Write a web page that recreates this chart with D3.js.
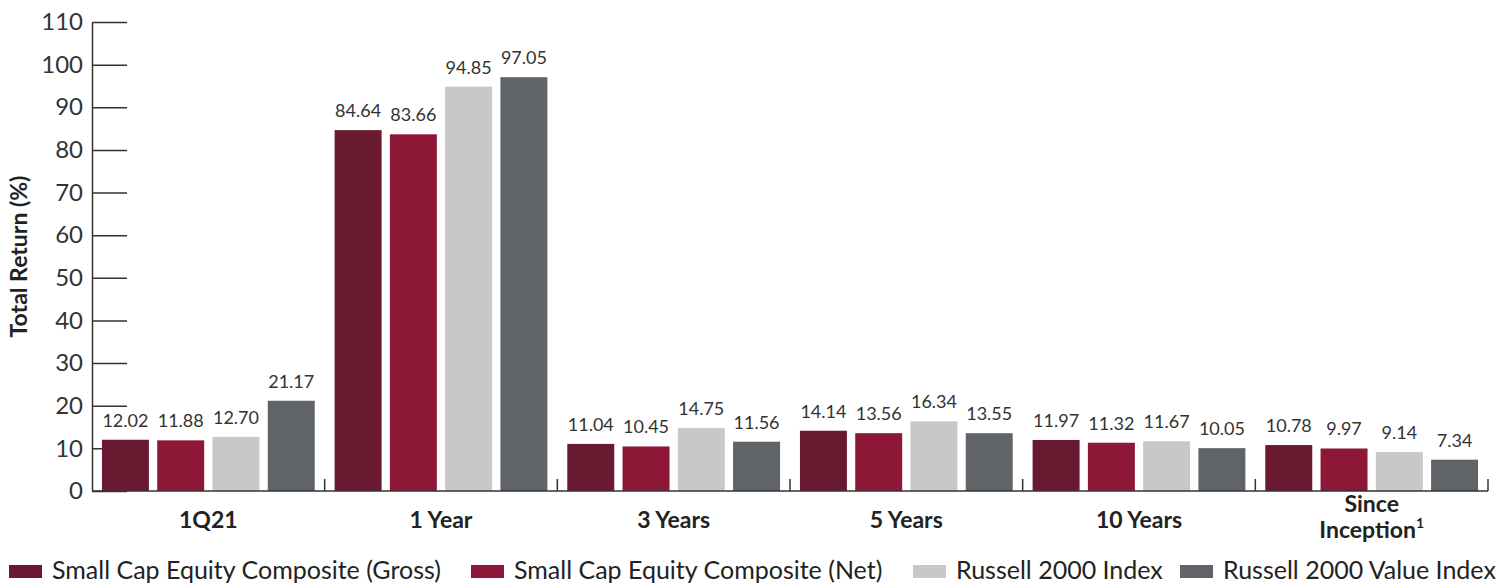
<!DOCTYPE html>
<html>
<head>
<meta charset="utf-8">
<script src="https://cdn.jsdelivr.net/npm/d3@7"></script>
<style>
  body { margin: 0; background: #fff; }
  svg { display: block; font-family: "Lato", "Open Sans", sans-serif; }
</style>
</head>
<body>
<div id="chart"></div>
<script>
// periods along the x axis
const periods = ["1Q21", "1 Year", "3 Years", "5 Years", "10 Years", "Since Inception"];
const seriesNames = ["Small Cap Equity Composite (Gross)", "Small Cap Equity Composite (Net)", "Russell 2000 Index", "Russell 2000 Value Index"];
const gross = [12.02, 84.64, 11.04, 14.14, 11.97, 10.78];
const net = [11.88, 83.66, 10.45, 13.56, 11.32, 9.97];
const r2000 = [12.70, 94.85, 14.75, 16.34, 11.67, 9.14];
const r2000v = [21.17, 97.05, 11.56, 13.55, 10.05, 7.34];
const yTicks = [0, 10, 20, 30, 40, 50, 60, 70, 80, 90, 100, 110];

const colors = ["#6a1a30", "#8c1737", "#c8c8c6", "#606368"];
const allSeries = [gross, net, r2000, r2000v];

const W = 1510, H = 584;
const plotL = 92, plotR = 1488, plotT = 22, plotB = 491;

const svg = d3.select("#chart").append("svg")
  .attr("width", W).attr("height", H);

const x0 = d3.scaleBand().domain(periods).range([plotL, plotR]).padding(0);
const x1 = d3.scaleBand().domain(d3.range(4)).range([0, x0.bandwidth()])
  .paddingInner(0.15).paddingOuter(0.18);
const y = d3.scaleLinear().domain([0, 110]).range([plotB, plotT]);

// y axis
const yAxis = svg.append("g")
  .attr("transform", "translate(" + plotL + ",0)")
  .call(d3.axisLeft(y).tickValues(yTicks).tickSize(-35).tickSizeOuter(0).tickPadding(9));
yAxis.select(".domain").attr("stroke", "#333").attr("stroke-width", 1.5);
yAxis.selectAll(".tick line").attr("stroke", "#333").attr("stroke-width", 1.5);
yAxis.selectAll("text")
  .attr("fill", "#333")
  .style("font-size", "24px")
  .style("font-family", "Lato, sans-serif");

svg.append("text")
  .attr("transform", "translate(27," + ((plotT + plotB) / 2) + ") rotate(-90)")
  .attr("text-anchor", "middle")
  .attr("fill", "#222")
  .style("font-size", "23px")
  .style("font-weight", "bold")
  .text("Total Return (%)");

// bars
const rows = periods.map((p, i) => ({ period: p, vals: allSeries.map(s => s[i]) }));

const groups = svg.append("g").selectAll("g")
  .data(rows)
  .enter().append("g")
  .attr("transform", d => "translate(" + x0(d.period) + ",0)");

groups.selectAll("rect")
  .data(d => d.vals)
  .enter().append("rect")
  .attr("x", (d, i) => x1(i))
  .attr("y", d => y(d))
  .attr("width", x1.bandwidth())
  .attr("height", d => y(0) - y(d))
  .attr("fill", (d, i) => colors[i]);

groups.selectAll("text.value-label")
  .data(d => d.vals)
  .enter().append("text")
  .attr("class", "value-label")
  .attr("x", (d, i) => x1(i) + x1.bandwidth() / 2)
  .attr("y", d => y(d) - 13)
  .attr("text-anchor", "middle")
  .attr("fill", "#333")
  .style("font-size", "18px")
  .text(d => d.toFixed(2));

// x axis
const xAxis = svg.append("g");
xAxis.append("line")
  .attr("x1", plotL).attr("x2", plotR)
  .attr("y1", y(0)).attr("y2", y(0))
  .attr("stroke", "#333").attr("stroke-width", 1.5);
xAxis.selectAll("line.tick")
  .data(periods)
  .enter().append("line")
  .attr("class", "tick")
  .attr("x1", d => x0(d) + x0.bandwidth())
  .attr("x2", d => x0(d) + x0.bandwidth())
  .attr("y1", y(0)).attr("y2", y(0) - 12)
  .attr("stroke", "#333").attr("stroke-width", 1.5);

const labelLines = { "Since Inception": ["Since", "Inception"] };
const xl = xAxis.selectAll("text.cat")
  .data(periods)
  .enter().append("text")
  .attr("class", "cat")
  .attr("text-anchor", "middle")
  .attr("fill", "#222")
  .style("font-size", "23px")
  .style("font-weight", "bold");
xl.each(function(d) {
  const t = d3.select(this);
  const cx = x0(d) + x0.bandwidth() / 2;
  if (labelLines[d]) {
    t.append("tspan").attr("x", cx).attr("y", 512).text(labelLines[d][0]);
    const t2 = t.append("tspan").attr("x", cx).attr("y", 538).text(labelLines[d][1]);
    t2.append("tspan").attr("dy", -10).style("font-size", "14px").text("1");
  } else {
    t.attr("x", cx).attr("y", 528).text(d);
  }
});

// legend
const legendX = [9, 471, 913, 1180];
const legend = svg.append("g").selectAll("g")
  .data(seriesNames)
  .enter().append("g")
  .attr("transform", (d, i) => "translate(" + legendX[i] + ",565)");
legend.append("rect")
  .attr("width", 33).attr("height", 13)
  .attr("fill", (d, i) => colors[i]);
legend.append("text")
  .attr("x", 43).attr("y", 14)
  .attr("fill", "#222")
  .style("font-size", "25px")
  .text(d => d);
</script>
</body>
</html>
